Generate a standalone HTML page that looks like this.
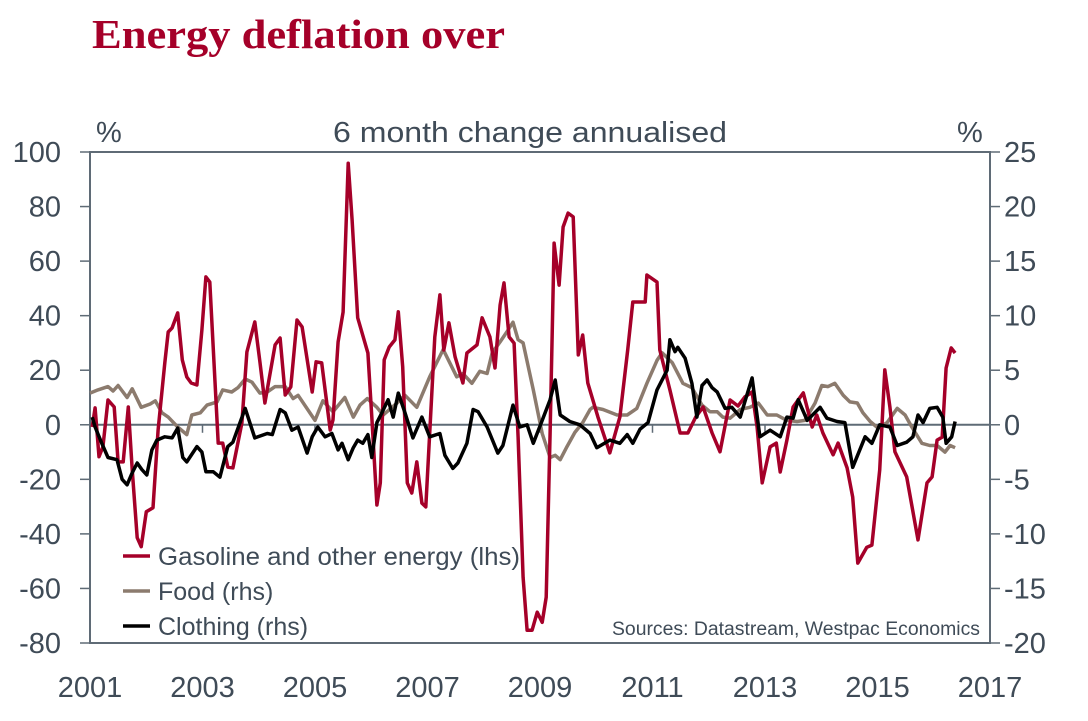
<!DOCTYPE html>
<html><head><meta charset="utf-8"><style>
html,body{margin:0;padding:0;background:#fff;}
svg{display:block;font-family:"Liberation Sans",sans-serif;}
</style></head><body>
<svg id="chart" width="1088" height="721" viewBox="0 0 1088 721" xmlns="http://www.w3.org/2000/svg">
<text x="92" y="48" font-family="Liberation Serif,serif" font-weight="bold" font-size="41" fill="#a50029" textLength="413" lengthAdjust="spacingAndGlyphs">Energy deflation over</text>
<text x="333" y="142" font-size="29" fill="#3f4b57" textLength="394" lengthAdjust="spacingAndGlyphs">6 month change annualised</text>
<text x="96" y="142" font-size="29" fill="#3f4b57">%</text>
<text x="957" y="142" font-size="29" fill="#3f4b57">%</text>
<g id="axes"></g>
<g id="series"></g>
<g>
 <line x1="123" y1="556" x2="150" y2="556" stroke="#a50029" stroke-width="3.5"/>
 <text x="158" y="565" font-size="25" fill="#3f4b57" textLength="362" lengthAdjust="spacingAndGlyphs">Gasoline and other energy (lhs)</text>
 <line x1="123" y1="591" x2="150" y2="591" stroke="#8c7b6e" stroke-width="3.5"/>
 <text x="158" y="600" font-size="25" fill="#3f4b57">Food  (rhs)</text>
 <line x1="123" y1="626" x2="150" y2="626" stroke="#000" stroke-width="3.5"/>
 <text x="158" y="635" font-size="25" fill="#3f4b57">Clothing (rhs)</text>
</g>
<text x="612" y="635" font-size="19" fill="#3f4b57" textLength="368" lengthAdjust="spacingAndGlyphs">Sources: Datastream, Westpac Economics</text>
</svg>
<script>
const gasT=[2001.04,2001.09,2001.16,2001.23,2001.32,2001.43,2001.50,2001.59,2001.68,2001.75,2001.84,2001.91,2002.00,2002.12,2002.21,2002.33,2002.39,2002.46,2002.56,2002.64,2002.72,2002.80,2002.90,2002.99,2003.06,2003.13,2003.28,2003.36,2003.45,2003.54,2003.70,2003.79,2003.93,2004.02,2004.11,2004.29,2004.38,2004.47,2004.57,2004.68,2004.77,2004.95,2005.02,2005.12,2005.27,2005.32,2005.41,2005.50,2005.59,2005.66,2005.76,2005.94,2006.01,2006.10,2006.16,2006.23,2006.32,2006.42,2006.48,2006.56,2006.64,2006.72,2006.81,2006.90,2006.97,2007.13,2007.22,2007.29,2007.38,2007.49,2007.63,2007.70,2007.88,2007.97,2008.11,2008.20,2008.29,2008.36,2008.45,2008.54,2008.61,2008.70,2008.77,2008.86,2008.95,2009.04,2009.11,2009.18,2009.25,2009.34,2009.41,2009.50,2009.59,2009.68,2009.76,2009.85,2010.03,2010.24,2010.42,2010.56,2010.65,2010.87,2010.90,2011.08,2011.13,2011.31,2011.49,2011.63,2011.77,2011.90,2012.06,2012.20,2012.38,2012.52,2012.64,2012.77,2012.86,2012.95,2013.09,2013.20,2013.27,2013.39,2013.50,2013.68,2013.84,2013.92,2014.03,2014.21,2014.30,2014.46,2014.56,2014.65,2014.81,2014.90,2015.04,2015.13,2015.22,2015.31,2015.52,2015.72,2015.88,2015.97,2016.06,2016.15,2016.22,2016.31,2016.38];
const gasV=[-0.8,6.2,-11.7,-8.1,9.1,6.5,-13.6,-13.6,6.5,-16.4,-41.4,-44.7,-31.9,-30.4,-1.9,22.7,34.0,35.5,41.0,23.8,17.5,15.3,14.6,34.8,54.2,52.3,-6.7,-6.7,-15.5,-15.8,0.7,26.7,37.7,23.1,8.0,29.3,31.8,10.9,13.9,38.4,35.9,12.0,23.1,22.7,-1.9,1.8,30.4,41.3,95.9,75.1,39.2,26.3,2.9,-29.4,-21.3,23.8,28.5,31.1,41.4,21.2,-21.3,-25.0,-13.6,-28.7,-30.1,32.2,47.6,27.4,37.4,24.9,15.3,26.3,29.3,39.2,32.2,20.8,43.9,52.0,32.2,29.9,-4.5,-55.9,-75.3,-75.3,-68.7,-72.4,-63.2,-3.0,66.6,51.2,72.5,77.6,76.2,25.6,32.9,15.3,2.9,-10.3,2.9,27.4,45.0,45.0,54.9,52.3,27.4,12.8,-3.0,-3.0,2.9,6.5,-3.0,-9.9,9.1,6.9,10.2,12.0,-0.8,-21.3,-8.1,-6.7,-17.3,-5.6,6.5,11.7,-0.8,3.6,-3.0,-11.0,-6.7,-15.8,-26.5,-50.7,-44.9,-44.1,-16.6,20.1,6.5,-9.9,-19.1,-42.2,-21.3,-19.1,-5.6,-4.5,20.8,28.2,26.3];
const foodT=[2001.00,2001.14,2001.32,2001.41,2001.50,2001.66,2001.75,2001.91,2002.07,2002.16,2002.28,2002.39,2002.56,2002.72,2002.81,2002.96,2003.08,2003.26,2003.36,2003.52,2003.63,2003.76,2003.88,2004.02,2004.15,2004.29,2004.47,2004.61,2004.70,2005.00,2005.14,2005.32,2005.53,2005.68,2005.80,2005.93,2006.10,2006.21,2006.46,2006.60,2006.81,2007.04,2007.28,2007.52,2007.63,2007.79,2007.93,2008.06,2008.15,2008.29,2008.41,2008.52,2008.61,2008.70,2008.88,2009.04,2009.18,2009.27,2009.36,2009.48,2009.62,2009.76,2009.89,2009.94,2010.12,2010.37,2010.55,2010.72,2010.90,2011.08,2011.17,2011.35,2011.54,2011.70,2011.88,2012.02,2012.15,2012.25,2012.38,2012.56,2012.73,2012.88,2013.04,2013.21,2013.39,2013.57,2013.71,2013.89,2014.01,2014.12,2014.24,2014.39,2014.51,2014.64,2014.74,2014.87,2015.01,2015.17,2015.35,2015.49,2015.61,2015.79,2015.93,2016.06,2016.20,2016.29,2016.38];
const foodV=[2.9,3.2,3.5,3.1,3.6,2.5,3.3,1.6,1.9,2.2,1.1,0.7,-0.2,-0.9,0.9,1.1,1.8,2.1,3.2,3.0,3.4,4.2,3.9,2.9,3.0,3.5,3.5,2.4,2.7,0.4,2.2,1.2,2.5,0.7,1.8,2.4,1.6,0.9,2.0,2.7,1.6,4.4,6.9,4.4,4.7,3.8,4.9,4.7,6.6,7.6,8.5,9.4,7.8,7.5,3.2,-0.8,-3.0,-2.8,-3.2,-2.0,-0.7,0.2,1.4,1.6,1.4,0.9,0.9,1.5,3.8,5.9,6.6,5.7,3.8,3.4,1.8,1.2,1.2,0.7,0.6,1.4,1.6,2.0,0.9,0.9,0.4,0.3,0.4,2.0,3.6,3.5,3.8,2.7,2.1,2.0,1.1,0.3,-0.3,0.2,1.5,0.9,-0.2,-1.7,-1.9,-1.9,-2.5,-1.9,-2.1];
const clothT=[2001.04,2001.09,2001.21,2001.32,2001.48,2001.57,2001.66,2001.75,2001.84,2001.92,2002.01,2002.10,2002.19,2002.33,2002.46,2002.56,2002.65,2002.72,2002.90,2002.99,2003.06,2003.19,2003.31,2003.45,2003.54,2003.76,2003.93,2004.15,2004.24,2004.38,2004.47,2004.59,2004.70,2004.86,2004.95,2005.05,2005.18,2005.30,2005.41,2005.48,2005.59,2005.68,2005.76,2005.85,2005.94,2006.01,2006.10,2006.19,2006.30,2006.39,2006.48,2006.60,2006.74,2006.90,2007.04,2007.22,2007.31,2007.45,2007.54,2007.70,2007.81,2007.90,2008.06,2008.25,2008.34,2008.52,2008.64,2008.77,2008.88,2009.04,2009.18,2009.27,2009.36,2009.53,2009.71,2009.89,2010.01,2010.24,2010.42,2010.55,2010.65,2010.78,2010.92,2011.08,2011.26,2011.31,2011.40,2011.45,2011.58,2011.70,2011.79,2011.88,2011.97,2012.06,2012.15,2012.29,2012.41,2012.56,2012.77,2012.91,2013.09,2013.27,2013.39,2013.50,2013.59,2013.75,2013.98,2014.10,2014.28,2014.42,2014.56,2014.78,2014.90,2015.04,2015.22,2015.35,2015.52,2015.63,2015.72,2015.81,2015.93,2016.06,2016.16,2016.22,2016.32,2016.38];
const clothV=[0.7,-0.2,-1.7,-3.0,-3.2,-5.0,-5.5,-4.4,-3.5,-4.1,-4.6,-2.3,-1.4,-1.1,-1.2,-0.3,-3.0,-3.4,-2.0,-2.5,-4.3,-4.3,-4.8,-2.0,-1.6,1.5,-1.2,-0.8,-0.9,1.4,1.1,-0.5,-0.2,-2.6,-1.1,-0.2,-1.1,-0.8,-2.3,-1.7,-3.2,-2.1,-1.4,-1.7,-0.9,-3.0,0.2,1.1,2.3,0.7,2.9,1.1,-1.2,0.7,-1.1,-0.8,-2.8,-4.0,-3.5,-1.7,1.4,1.2,-0.2,-2.6,-1.9,1.8,-0.2,0.0,-1.7,0.4,2.3,4.1,0.9,0.3,0.0,-0.8,-2.1,-1.4,-1.7,-0.9,-1.7,-0.4,0.2,3.2,5.0,7.8,6.7,7.1,6.1,3.8,0.7,3.6,4.1,3.4,3.0,1.5,1.6,0.7,4.3,-1.1,-0.5,-1.1,0.7,0.6,2.3,0.4,1.6,0.6,0.3,0.2,-3.9,-1.1,-1.7,0.0,-0.2,-1.9,-1.6,-1.1,0.9,0.2,1.5,1.6,0.7,-1.7,-1.1,0.3];
const leftTicks=[100,80,60,40,20,0,-20,-40,-60,-80];
const rightTicks=[25,20,15,10,5,0,-5,-10,-15,-20];
const yearLabels=[2001,2003,2005,2007,2009,2011,2013,2015,2017];

const NS="http://www.w3.org/2000/svg";
const PL=90,PR=990,PT=152,PB=643;
function xS(t){return PL+(t-2001)/16*(PR-PL);}
function yL(v){return PT+(100-v)/180*(PB-PT);}
function yR(v){return PT+(25-v)/45*(PB-PT);}
function mk(tag,attrs,parent){const e=document.createElementNS(NS,tag);for(const k in attrs)e.setAttribute(k,attrs[k]);parent.appendChild(e);return e;}
const axes=document.getElementById('axes');
const AX="#5f6b76",TX="#3f4b57";
let e;
e=mk('rect',{x:PL,y:PT,width:PR-PL,height:PB-PT,fill:'none',stroke:AX,'stroke-width':2},axes);


leftTicks.forEach(v=>{
  const y=yL(v);
  let t=mk('line',{x1:PL-10,x2:PL,y1:y,y2:y,stroke:AX,'stroke-width':1.5},axes);
  
  
  let l=mk('text',{x:61,y:y+10,'font-size':29,fill:TX,'text-anchor':'end'},axes);
  l.textContent=v;
  
  
});
rightTicks.forEach(v=>{
  const y=yR(v);
  let t=mk('line',{x1:PR,x2:PR+10,y1:y,y2:y,stroke:AX,'stroke-width':1.5},axes);
  
  
  let l=mk('text',{x:1004,y:y+10,'font-size':29,fill:TX},axes);
  l.textContent=v;
  
  
});
e=mk('line',{x1:PL,x2:PR,y1:yL(0),y2:yL(0),stroke:AX,'stroke-width':2},axes);


yearLabels.forEach(yr=>{
  const x=xS(yr);
  let t=mk('line',{x1:x,x2:x,y1:yL(0),y2:yL(0)+8,stroke:AX,'stroke-width':1.5},axes);
  
  
  let l=mk('text',{x:x,y:697,'font-size':29,fill:TX,'text-anchor':'middle'},axes);
  l.textContent=yr;
  
  
});
const ser=document.getElementById('series');
function path(T,V,yf){return T.map((t,i)=>(i?'L':'M')+xS(t).toFixed(1)+','+yf(V[i]).toFixed(1)).join(' ');}
e=mk('path',{d:path(foodT,foodV,yR),fill:'none',stroke:'#8c7b6e','stroke-width':3.5,'stroke-linejoin':'round'},ser);


e=mk('path',{d:path(gasT,gasV,yL),fill:'none',stroke:'#a50029','stroke-width':3.5,'stroke-linejoin':'round'},ser);


e=mk('path',{d:path(clothT,clothV,yR),fill:'none',stroke:'#000','stroke-width':3.5,'stroke-linejoin':'round'},ser);


</script>
</body></html>
